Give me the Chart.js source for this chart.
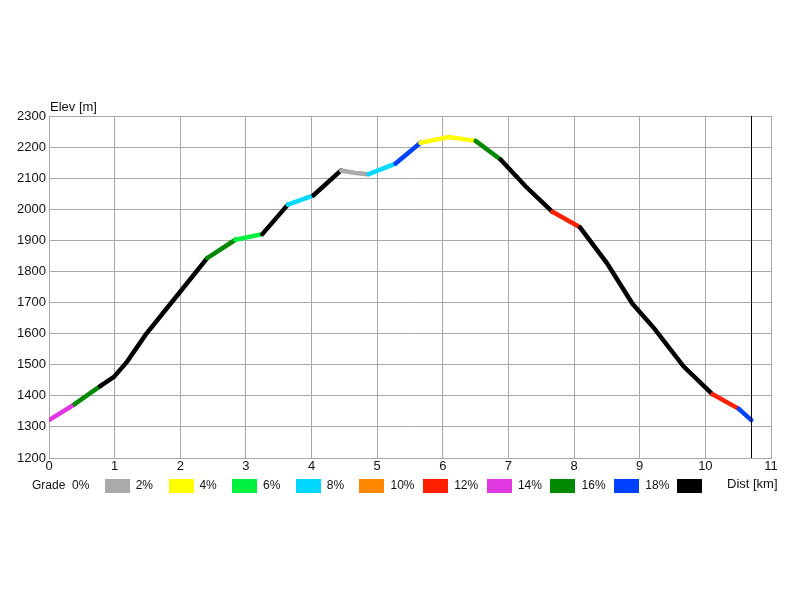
<!DOCTYPE html>
<html>
<head>
<meta charset="utf-8">
<script src="https://cdn.jsdelivr.net/npm/chart.js@4/dist/chart.umd.min.js"></script>
<style>
  html, body { margin: 0; padding: 0; background: #fff; }
  #wrap { width: 800px; height: 600px; position: relative; }
</style>
</head>
<body>
<div id="wrap"><canvas id="c" width="800" height="600"></canvas></div>
<script>
// Distance along track [km]
const distKm = [0, 0.39, 0.78, 0.99, 1.19, 1.47, 1.98, 2.41, 2.84, 3.25, 3.64, 4.03, 4.45, 4.67, 4.87, 5.28, 5.66, 6.09, 6.50, 6.88, 7.26, 7.67, 8.09, 8.50, 8.89, 9.22, 9.67, 10.11, 10.51, 10.70];
// Elevation [m]
const elevM = [1322, 1373, 1431, 1461, 1510, 1596, 1730, 1843, 1902, 1920, 2015, 2045, 2125, 2117, 2113, 2147, 2214, 2232, 2220, 2160, 2074, 1992, 1942, 1827, 1696, 1617, 1494, 1405, 1358, 1322];
// Grade class of each segment (index into gradeColors)
const segClass = [6, 7, 9, 9, 9, 9, 9, 7, 2, 9, 3, 9, 0, 0, 3, 8, 1, 1, 7, 9, 9, 5, 9, 9, 9, 9, 9, 5, 8];
// Legend
const gradeLabels = ['0%', '2%', '4%', '6%', '8%', '10%', '12%', '14%', '16%', '18%'];
const gradeColors = ['#aaaaaa', '#ffff00', '#00f040', '#00d8ff', '#ff8800', '#ff2000', '#e038e0', '#008800', '#0040ff', '#000000'];
// Axis ticks
const yTicksMin = 1200, yTicksMax = 2300, yStep = 100;
const xTicksMin = 0, xTicksMax = 11, xStep = 1;

const FAMILY = '"Liberation Sans", Arial, sans-serif';

const points = distKm.map((d, i) => ({ x: d, y: elevM[i] }));

const extras = {
  id: 'extras',
  afterDatasetsDraw(chart) {
    const { ctx, chartArea: a, scales } = chart;
    const xe = scales.x.getPixelForValue(distKm[distKm.length - 1]);
    ctx.save();
    ctx.strokeStyle = '#000';
    ctx.lineWidth = 1;
    ctx.beginPath();
    ctx.moveTo(Math.round(xe) + 0.5, a.top);
    ctx.lineTo(Math.round(xe) + 0.5, a.bottom);
    ctx.stroke();
    ctx.restore();
  },
  afterDraw(chart) {
    const { ctx } = chart;
    ctx.save();
    ctx.fillStyle = '#111';
    ctx.textBaseline = 'middle';
    ctx.textAlign = 'left';
    ctx.font = '13px ' + FAMILY;
    ctx.fillText('Elev [m]', 50, 107);
    ctx.fillText('Dist [km]', 727, 484);
    ctx.font = '12px ' + FAMILY;
    ctx.fillText('Grade', 32, 486);
    for (let i = 0; i < gradeLabels.length; i++) {
      const lx = 72 + i * 63.7;
      const sx = 105 + i * 63.6;
      ctx.fillStyle = '#111';
      ctx.fillText(gradeLabels[i], lx, 486);
      ctx.fillStyle = gradeColors[i];
      ctx.fillRect(Math.round(sx), 479, 25, 14);
    }
    ctx.restore();
  }
};

new Chart(document.getElementById('c'), {
  type: 'line',
  data: {
    datasets: [{
      data: points,
      borderWidth: 4.5,
      borderColor: '#000',
      pointRadius: 0,
      tension: 0,
      fill: false,
      borderCapStyle: 'round',
      segment: {
        borderColor: ctx => gradeColors[segClass[ctx.p0DataIndex]]
      }
    }]
  },
  options: {
    responsive: false,
    animation: false,
    events: [],
    layout: { padding: { left: 0, top: 116, right: 29, bottom: 122 } },
    plugins: { legend: { display: false }, tooltip: { enabled: false } },
    scales: {
      x: {
        type: 'linear',
        min: xTicksMin, max: xTicksMax,
        ticks: { stepSize: xStep, color: '#111', font: { family: FAMILY, size: 13 }, padding: 1, maxRotation: 0,
                 callback: v => String(v) },
        grid: { color: '#a8a8a8', drawTicks: false, lineWidth: 1 },
        border: { color: '#a8a8a8' },
        afterFit: s => { s.height = 20; }
      },
      y: {
        min: yTicksMin, max: yTicksMax,
        ticks: { stepSize: yStep, color: '#111', font: { family: FAMILY, size: 13 }, padding: 3,
                 callback: v => String(v) },
        grid: { color: '#a8a8a8', drawTicks: false, lineWidth: 1 },
        border: { color: '#a8a8a8' },
        afterFit: s => { s.width = 49; }
      }
    }
  },
  plugins: [extras]
});
</script>
</body>
</html>
